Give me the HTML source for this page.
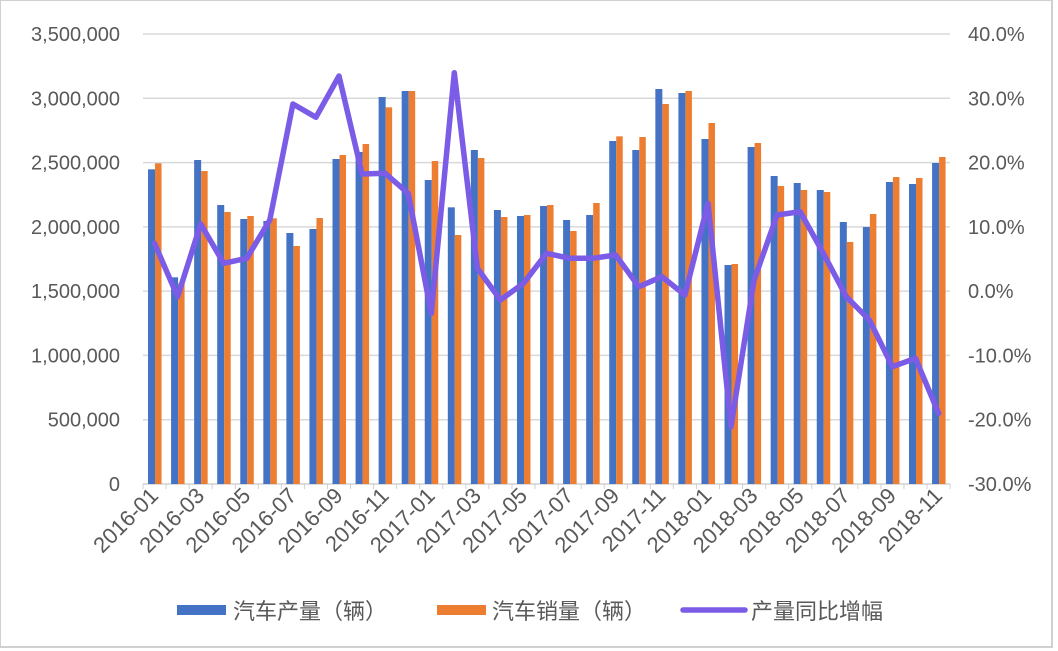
<!DOCTYPE html>
<html><head><meta charset="utf-8"><style>
html,body{margin:0;padding:0;background:#fff;}
svg{display:block;font-family:"Liberation Sans","Noto Sans CJK SC",sans-serif;}
</style></head><body>
<svg id="c" width="1058" height="651" viewBox="0 0 1058 651" xmlns="http://www.w3.org/2000/svg">
<rect x="0" y="0" width="1052" height="647" fill="#fff" stroke="#d0d0d0" stroke-width="2"/>
<g id="grid"></g><g id="bars"></g><g id="line"></g><g id="labels" fill="#595959" font-size="20"></g><g id="xl" fill="#595959" font-size="22"></g>
<g font-size="22" fill="#595959">
<rect x="177" y="605" width="49" height="10" fill="#4472c4"/>
<text x="233" y="619" font-family="'Noto Sans CJK SC',sans-serif">汽车产量（辆）</text>
<rect x="437" y="605" width="49" height="10" fill="#ed7d31"/>
<text x="492" y="619" font-family="'Noto Sans CJK SC',sans-serif">汽车销量（辆）</text>
<line x1="683" y1="610" x2="745" y2="610" stroke="#7b5ce6" stroke-width="5.5" stroke-linecap="round"/>
<text x="751" y="619" font-family="'Noto Sans CJK SC',sans-serif">产量同比增幅</text>
</g>
</svg>
<script>
(function(){
var NS="http://www.w3.org/2000/svg";
function el(p,t,a,txt){var e=document.createElementNS(NS,t);for(var k in a)e.setAttribute(k,a[k]);if(txt!=null)e.textContent=txt;document.getElementById(p).appendChild(e);return e;}
var x0=143,slot=23.06,T=34,bot=484;
var bz=[448,772,420,555,597,603,639,627,417,396,231,213,480,562,390,570,588];
var oz=[430,790,453,576,588,595,678,594,405,372,262,213,423,645,414,591,585];
var bz2=[558,600,585,363,390,207,219,357,735,381,468,489,510,606,621,486,492,429];
var oz2=[555,633,549,349,351,252,213,309,732,369,498,510,516,666,582,471,474,411];
var B=bz.concat(bz2).map(function(z){return 20+z/3});
var O=oz.concat(oz2).map(function(z){return 20+z/3});
var L=[243.3,296.7,224,263.3,258.3,220,104,117.3,76,174,173.3,193.3,313.3,72.7,268.3,300,283.3,253.3,258.3,258.3,255,286.7,276.7,295,203.3,426.7,280,215,211.7,253.3,296.7,320,366.7,358.3,413.3];
for(var i=0;i<8;i++){var y=T+i*450/7;el("grid","line",{x1:x0,x2:950,y1:y,y2:y,stroke:i==7?"#d0d0d0":"#d9d9d9","stroke-width":1.5});}
var lv=["3,500,000","3,000,000","2,500,000","2,000,000","1,500,000","1,000,000","500,000","0"];
var rv=["40.0%","30.0%","20.0%","10.0%","0.0%","-10.0%","-20.0%","-30.0%"];
for(var i=0;i<8;i++){var y=T+i*450/7+7;el("labels","text",{x:120,y:y,"text-anchor":"end"},lv[i]);el("labels","text",{x:968,y:y},rv[i]);}
for(var i=0;i<35;i++){var c=x0+(i+0.5)*slot;
el("bars","rect",{x:c-6.5,y:B[i],width:7,height:bot-B[i],fill:"#4472c4"});
el("bars","rect",{x:c+0.5,y:O[i],width:6.5,height:bot-O[i],fill:"#ed7d31"});}
for(var i=0;i<=35;i++){var x=x0+i*slot;el("grid","line",{x1:x,x2:x,y1:bot,y2:bot+5,stroke:"#d0d0d0","stroke-width":1});}
var pts=L.map(function(y,i){return (x0+(i+0.5)*slot).toFixed(1)+","+y}).join(" ");
el("line","polyline",{points:pts,fill:"none",stroke:"#7b5ce6","stroke-width":5.5,"stroke-linejoin":"round","stroke-linecap":"round"});
for(var i=0;i<35;i+=2){var yr=2016+Math.floor(i/12),m=i%12+1;var s=yr+"-"+(m<10?"0":"")+m;
var x=x0+(i+0.5)*slot+5,y=497;
el("xl","text",{x:x,y:y,"text-anchor":"end",transform:"rotate(-45 "+x+" "+y+")"},s);}
})();
</script>
</body></html>
